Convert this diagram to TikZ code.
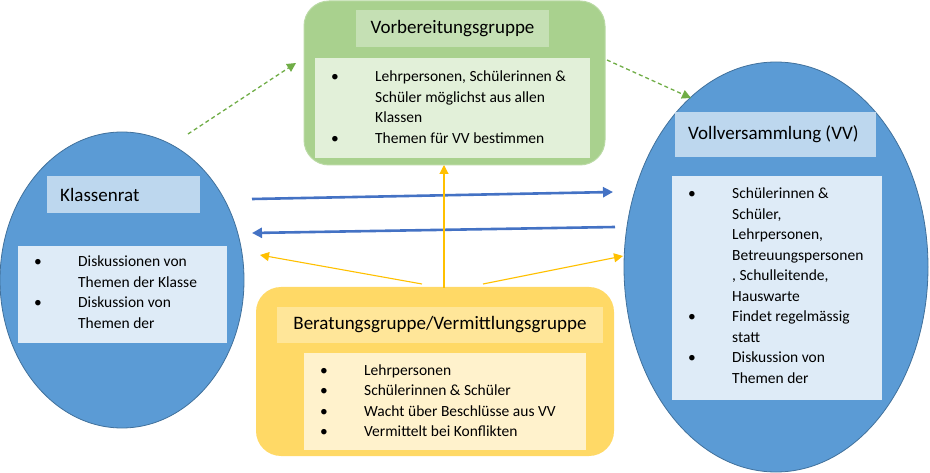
\documentclass[tikz,border=0pt]{standalone}
\usepackage{fontspec}
\setmainfont{Carlito}
\usetikzlibrary{shapes.geometric,arrows.meta}
\definecolor{ellF}{HTML}{5B9BD5}
\definecolor{ellB}{HTML}{41719C}
\definecolor{bT}{HTML}{BDD7EE}
\definecolor{bL}{HTML}{DEEBF7}
\definecolor{gO}{HTML}{A9D18E}
\definecolor{gT}{HTML}{C5E0B4}
\definecolor{gL}{HTML}{E2F0D9}
\definecolor{yO}{HTML}{FFD966}
\definecolor{yT}{HTML}{FFE699}
\definecolor{yL}{HTML}{FFF2CC}
\definecolor{arB}{HTML}{4472C4}
\definecolor{arY}{HTML}{FFC000}
\definecolor{arG}{HTML}{70AD47}
\newcommand\bodyfont{\fontsize{15.5}{20.5}\selectfont}
\newcommand\titlefont{\fontsize{19}{22}\selectfont}
\newcommand\bl{\textbullet}
\begin{document}
\begin{tikzpicture}[x=1pt,y=-1pt,
  ell/.style={ellipse,draw=ellB,fill=ellF,line width=0.8pt,inner sep=0pt},
  plain/.style={rectangle,inner sep=0pt,draw=none},
  outer/.style={rectangle,rounded corners=25pt,inner sep=0pt},
  ttl/.style={plain,font=\titlefont},
  lst/.style={anchor=base west,inner sep=0pt,font=\bodyfont,align=left},
  blue/.style={draw=arB,line width=2.6pt,-{Triangle[length=10pt,width=10pt]}},
  yel/.style={draw=arY,line width=1.1pt,-{Triangle[length=9pt,width=9pt]}},
  grn/.style={draw=arG,line width=1.3pt,dash pattern=on 4pt off 3pt,-{Triangle[length=9pt,width=9pt]}}
]
\useasboundingbox (0,0) rectangle (930,473);

% Left ellipse: Klassenrat
\node[ell,minimum width=244pt,minimum height=296pt] (kr) at (122,280) {};
\node[plain,fill=bT,minimum width=153pt,minimum height=37pt] (krt) at (123.5,194.5) {};
\node[ttl,anchor=west] (krtx) at (60,195) {Klassenrat};
\node[plain,fill=bL,minimum width=209pt,minimum height=97pt] (krl) at (122.5,294.5) {};
\node[lst] (krlx) at (34,267) {\begin{tabular}[t]{@{}p{44pt}@{}l@{}}
\bl & Diskussionen von\\
 & Themen der Klasse\\
\bl & Diskussion von\\
 & Themen der
\end{tabular}};

% Right ellipse: Vollversammlung
\node[ell,minimum width=304pt,minimum height=410pt] (vv) at (776,267) {};
\node[plain,fill=bT,minimum width=201pt,minimum height=45pt] (vvt) at (775.5,134.5) {};
\node[ttl,anchor=west] (vvtx) at (688,134) {Vollversammlung (VV)};
\node[plain,fill=bL,minimum width=210pt,minimum height=224pt] (vvl) at (777,288) {};
\node[lst] (vvlx) at (688,199) {\begin{tabular}[t]{@{}p{44pt}@{}l@{}}
\bl & Schülerinnen \&\\
 & Schüler,\\
 & Lehrpersonen,\\
 & Betreuungspersonen\\
 & , Schulleitende,\\
 & Hauswarte\\
\bl & Findet regelmässig\\
 & statt\\
\bl & Diskussion von\\
 & Themen der
\end{tabular}};

% Green: Vorbereitungsgruppe
\node[outer,fill=gO,draw=gO!80!white,line width=1pt,minimum width=301pt,minimum height=164pt] (vg) at (454.5,83) {};
\node[ttl,fill=gT,minimum width=193pt,minimum height=37pt] (vgt) at (452.5,28.5) {Vorbereitungsgruppe};
\node[plain,fill=gL,minimum width=275pt,minimum height=100pt] (vgl) at (452.5,108) {};
\node[lst] (vglx) at (331,82) {\begin{tabular}[t]{@{}p{44pt}@{}l@{}}
\bl & Lehrpersonen, Schülerinnen \&\\
 & Schüler möglichst aus allen\\
 & Klassen\\
\bl & Themen für VV bestimmen
\end{tabular}};

% Yellow: Beratungsgruppe
\node[outer,fill=yO,minimum width=358pt,minimum height=169pt] (bg) at (435,371.5) {};
\node[ttl,fill=yT,minimum width=326pt,minimum height=36pt] (bgt) at (440,325) {Beratungsgruppe/Vermittlungsgruppe};
\node[plain,fill=yL,minimum width=282pt,minimum height=97pt] (bgl) at (445,401.5) {};
\node[lst] (bglx) at (320,375) {\begin{tabular}[t]{@{}p{44pt}@{}l@{}}
\bl & Lehrpersonen\\
\bl & Schülerinnen \& Schüler\\
\bl & Wacht über Beschlüsse aus VV\\
\bl & Vermittelt bei Konflikten
\end{tabular}};

% connector end points
\coordinate (g1s) at (188,134);
\coordinate (g1e) at (296,63);
\coordinate (g2s) at (607,60);
\coordinate (g2e) at (691,98);
\coordinate (b1s) at (252,199);
\coordinate (b1e) at (613,192);
\coordinate (b2s) at (615,227);
\coordinate (b2e) at (252,233);
\coordinate (y1s) at (422,284);
\coordinate (y1e) at (260,255);
\coordinate (y2s) at (444,288);
\coordinate (y2e) at (444,165);
\coordinate (y3s) at (483,284);
\coordinate (y3e) at (623,256);

\draw[grn] (g1s) -- (g1e);
\draw[grn] (g2s) -- (g2e);
\draw[blue] (b1s) -- (b1e);
\draw[blue] (b2s) -- (b2e);
\draw[yel] (y1s) -- (y1e);
\draw[yel] (y2s) -- (y2e);
\draw[yel] (y3s) -- (y3e);
\end{tikzpicture}
\end{document}
